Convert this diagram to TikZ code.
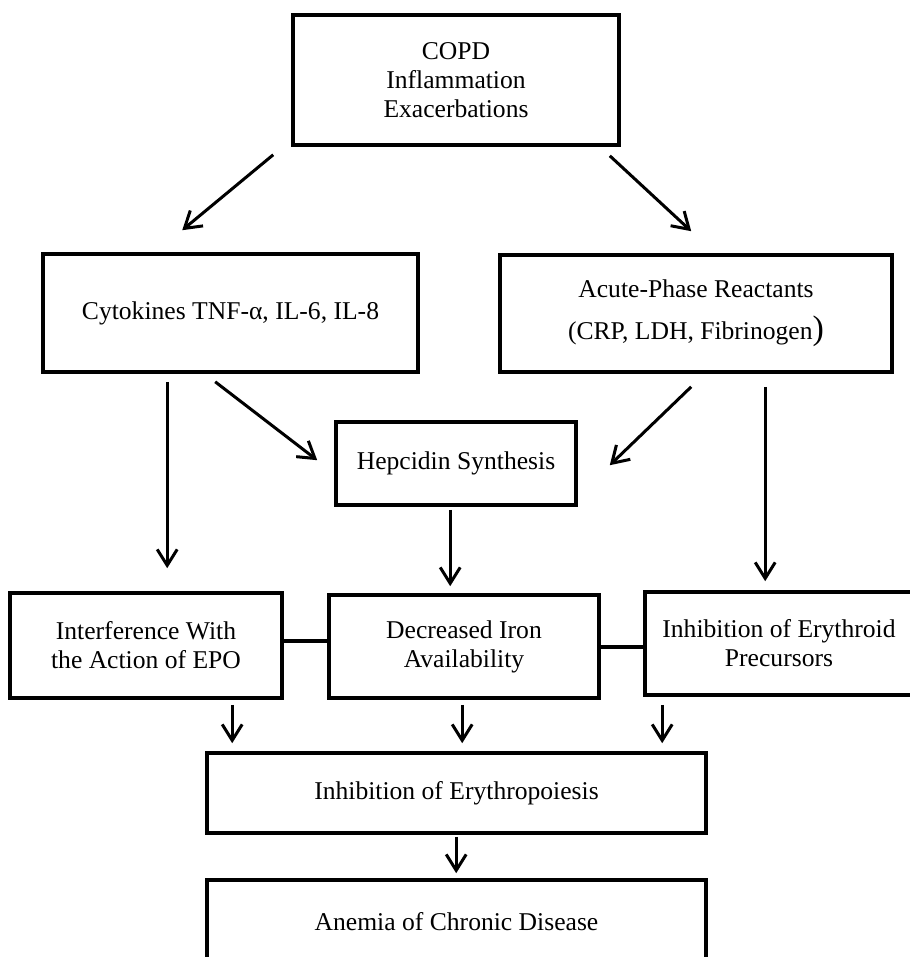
\documentclass[tikz,border=0pt]{standalone}
\usepackage{fontspec}
\setmainfont{Liberation Serif}
\usetikzlibrary{calc,arrows.meta}

\begin{document}
\begin{tikzpicture}[
        x=0.5pt, y=-0.5pt,
        stagebox/.style={
                draw,
                line width=1.8pt,
                font=\fontsize{12.8}{14.5}\selectfont,
                align=center,
                inner sep=0pt
            },
        flow/.style={-{Straight Barb[length=8pt,width=10pt]}, line width=1.5pt},
        joint/.style={line width=2pt}
    ]
    \useasboundingbox (0,0) rectangle (909,957);

    % ---- Source ----
    \node[stagebox, minimum width=163pt, minimum height=65pt] (copd) at (456,80)
    {COPD\\Inflammation\\Exacerbations};

    % ---- Mediators ----
    \node[stagebox, minimum width=187.5pt, minimum height=59pt] (cyto) at (230.5,313)
    {Cytokines TNF-α, IL-6, IL-8};
    \node[stagebox, minimum width=196pt, minimum height=58.5pt] (acute) at (696,313.5)
    {Acute-Phase Reactants\\[6.5pt](CRP, LDH, Fibrinogen{\fontsize{17}{17}\selectfont)}};

    % ---- Hepcidin ----
    \node[stagebox, minimum width=120pt, minimum height=41.5pt] (hep) at (456,463.5)
    {Hepcidin Synthesis};

    % ---- Effects ----
    \node[stagebox, minimum width=136pt, minimum height=52.5pt] (interf) at (146,645.5)
    {Interference With\\the Action of EPO};
    \node[stagebox, minimum width=135pt, minimum height=51.5pt] (iron) at (464,646.5)
    {Decreased Iron\\Availability};
    \node[stagebox, minimum width=134pt, minimum height=51.5pt] (eryth) at (779,643.5)
    {Inhibition of Erythroid\\Precursors};

    % ---- Outcome ----
    \node[stagebox, minimum width=249.5pt, minimum height=40pt] (erythro) at (456.5,793)
    {Inhibition of Erythropoiesis};
    \node[stagebox, minimum width=249.5pt, minimum height=42pt] (anemia) at (456.5,922)
    {Anemia of Chronic Disease};

    % joints between the effect boxes
    \draw[joint] ($(interf.east)+(0,-5)$) -- ($(interf.east -| iron.west)+(0,-5)$);
    \draw[joint] (iron.east) -- (iron.east -| eryth.west);

    % ---- Arrows ----
    \draw[flow] ($(copd.south west)+(-18,8)$) -- ($(cyto.north west)+(141,-22)$);
    \draw[flow] ($(copd.south east)+(-11,9)$) -- ($(acute.north west)+(193,-22)$);

    \draw[flow] ($(cyto.south west)+(126,8)$) -- ($(interf.north west)+(159,-23)$);
    \draw[flow] ($(cyto.south west)+(174,8)$) -- ($(hep.north west)+(-17,40)$);
    \draw[flow] ($(acute.south west)+(193,13)$) -- ($(hep.north east)+(32,45)$);
    \draw[flow] ($(acute.south west)+(267,13)$) -- ($(eryth.north west)+(122,-9)$);

    \draw[flow] ($(hep.south west)+(116,3)$) -- ($(iron.north west)+(123,-7)$);

    \draw[flow] ($(interf.south west)+(224,5)$) -- ($(erythro.north west)+(27,-8)$);
    \draw[flow] ($(iron.south west)+(135,5)$) -- ($(erythro.north west)+(257,-8)$);
    \draw[flow] ($(eryth.south west)+(19,8)$) -- ($(erythro.north west)+(457,-8)$);

    \draw[flow] ($(erythro.south west)+(251,2)$) -- ($(anemia.north west)+(251,-5)$);
\end{tikzpicture}
\end{document}
